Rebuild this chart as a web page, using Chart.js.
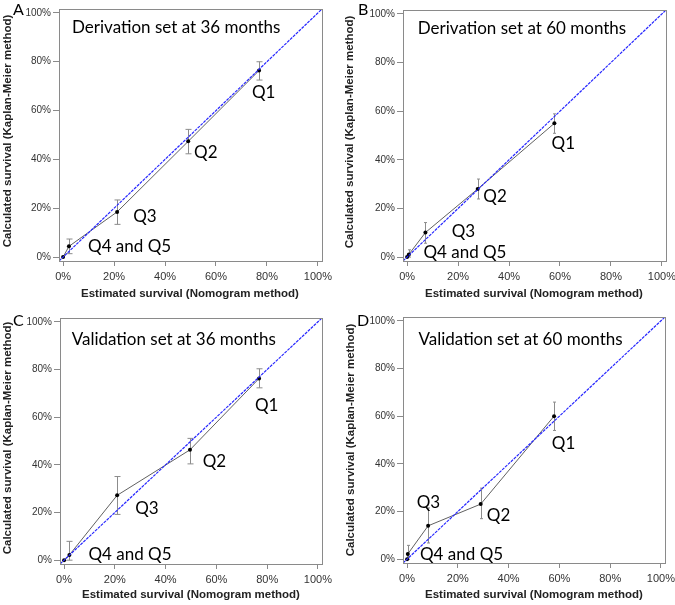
<!DOCTYPE html>
<html><head><meta charset="utf-8">
<script src="https://cdn.jsdelivr.net/npm/chart.js@4.4.1/dist/chart.umd.min.js"></script>
<style>
html,body{margin:0;padding:0;background:#fff;width:675px;height:605px;overflow:hidden}
canvas{position:absolute;left:0;top:0}
</style></head><body>
<canvas id="cA" width="675" height="605"></canvas>
<canvas id="cB" width="675" height="605"></canvas>
<canvas id="cC" width="675" height="605"></canvas>
<canvas id="cD" width="675" height="605"></canvas>
<script>
// ---- data ----
const axisTicks = [0, 0.2, 0.4, 0.6, 0.8, 1.0];
const quintileLabels = ['', 'Q4 and Q5', 'Q3', 'Q2', 'Q1'];
const panelTitles = ['Derivation set at 36 months', 'Derivation set at 60 months',
                     'Validation set at 36 months', 'Validation set at 60 months'];
const xTitle = 'Estimated survival (Nomogram method)';
const yTitle = 'Calculated survival (Kaplan-Meier method)';

// A: derivation 36 months
const aEst = [0, 0.023, 0.212, 0.491, 0.769];
const aObs = [0, 0.044, 0.185, 0.474, 0.764];
const aLo  = [null, 0.014, 0.134, 0.423, 0.725];
const aHi  = [null, 0.074, 0.234, 0.523, 0.800];
// B: derivation 60 months
const bEst = [0, 0.007, 0.072, 0.277, 0.578];
const bObs = [0, 0.011, 0.101, 0.280, 0.550];
const bLo  = [null, 0.000, 0.057, 0.239, 0.509];
const bHi  = [null, 0.030, 0.142, 0.321, 0.589];
// C: validation 36 months
const cEst = [0, 0.021, 0.209, 0.496, 0.768];
const cObs = [0, 0.022, 0.272, 0.463, 0.762];
const cLo  = [null, 0.000, 0.192, 0.404, 0.723];
const cHi  = [null, 0.079, 0.351, 0.511, 0.803];
// D: validation 60 months
const dEst = [0, 0.003, 0.083, 0.290, 0.579];
const dObs = [0, 0.022, 0.140, 0.231, 0.600];
const dLo  = [null, 0.000, 0.068, 0.170, 0.540];
const dHi  = [null, 0.058, 0.215, 0.298, 0.659];

// ---- layout / style ----
const AX_MIN = -0.016, AX_MAX = 1.016;
const YW = 50, XH = 40;
const panels = [
  {id:'cA', letter:'A', title:panelTitles[0], est:aEst, obs:aObs, lo:aLo, hi:aHi, cap:3,
   box:{l:59,r:322,t:9,b:261}, titleAt:[0.035,0.939],
   labelAt:[null,[0.098,0.043],[0.275,0.166],[0.514,0.427],[0.741,0.673]],
   letterAt:[13,2], yTitleAt:[8,131], xTitleAt:[190,294]},
  {id:'cB', letter:'B', title:panelTitles[1], est:bEst, obs:bObs, lo:bLo, hi:bHi, cap:1.5,
   box:{l:403,r:666,t:10,b:261}, titleAt:[0.042,0.94],
   labelAt:[null,[0.064,0.02],[0.175,0.104],[0.299,0.25],[0.567,0.466]],
   letterAt:[358,2], yTitleAt:[350,132], xTitleAt:[534,294]},
  {id:'cC', letter:'C', title:panelTitles[2], est:cEst, obs:cObs, lo:cLo, hi:cHi, cap:3,
   box:{l:60,r:322,t:318,b:564}, titleAt:[0.03,0.926],
   labelAt:[null,[0.096,0.023],[0.28,0.216],[0.546,0.412],[0.752,0.649]],
   letterAt:[13,313], yTitleAt:[8,438], xTitleAt:[191,595]},
  {id:'cD', letter:'D', title:panelTitles[3], est:dEst, obs:dObs, lo:dLo, hi:dHi, cap:1.5,
   box:{l:403,r:665,t:317,b:563}, titleAt:[0.045,0.92],
   labelAt:[null,[0.051,0.019],[0.038,0.238],[0.314,0.182],[0.57,0.487]],
   letterAt:[357,313], yTitleAt:[351,440], xTitleAt:[534,595]}
];

const GRAY = '#8a8a8a';
const pctFmt = v => Math.round(v * 100) + '%';

function makeDeco(p){
  return {
    id:'deco'+p.letter,
    beforeDatasetsDraw(chart){
      const xs = chart.scales.x, ys = chart.scales.y, ctx = chart.ctx;
      ctx.save();
      ctx.strokeStyle = '#8c8c8c'; ctx.lineWidth = 1;
      for (let i = 0; i < p.est.length; i++){
        if (p.lo[i] == null) continue;
        const x = Math.round(xs.getPixelForValue(p.est[i])) + 0.5;
        const y1 = ys.getPixelForValue(p.lo[i]), y2 = ys.getPixelForValue(p.hi[i]);
        ctx.beginPath();
        ctx.moveTo(x, y1); ctx.lineTo(x, y2);
        ctx.moveTo(x - p.cap, y1); ctx.lineTo(x + p.cap, y1);
        ctx.moveTo(x - p.cap, y2); ctx.lineTo(x + p.cap, y2);
        ctx.stroke();
      }
      ctx.restore();
    },
    afterDraw(chart){
      const xs = chart.scales.x, ys = chart.scales.y, ctx = chart.ctx, a = chart.chartArea;
      ctx.save();
      ctx.strokeStyle = GRAY; ctx.lineWidth = 1;
      ctx.strokeRect(Math.round(a.left)+0.5, Math.round(a.top)+0.5,
                     Math.round(a.right - a.left), Math.round(a.bottom - a.top));
      ctx.fillStyle = '#000';
      ctx.font = '17px Lato';
      ctx.textBaseline = 'middle'; ctx.textAlign = 'left';
      ctx.fillText(p.title, xs.getPixelForValue(p.titleAt[0]), ys.getPixelForValue(p.titleAt[1]));
      for (let i = 0; i < quintileLabels.length; i++){
        if (!p.labelAt[i]) continue;
        ctx.fillText(quintileLabels[i], xs.getPixelForValue(p.labelAt[i][0]), ys.getPixelForValue(p.labelAt[i][1]));
      }
      ctx.font = '16px Lato'; ctx.textBaseline = 'top';
      ctx.fillText(p.letter, p.letterAt[0], p.letterAt[1]);
      ctx.fillStyle = '#222';
      ctx.font = 'bold 11.5px "Liberation Sans", Arial, sans-serif';
      ctx.textAlign = 'center'; ctx.textBaseline = 'middle';
      ctx.fillText(xTitle, p.xTitleAt[0], p.xTitleAt[1]);
      ctx.translate(p.yTitleAt[0], p.yTitleAt[1]);
      ctx.rotate(-Math.PI/2);
      ctx.fillText(yTitle, 0, 0);
      ctx.restore();
    }
  };
}

Chart.defaults.animation = false;

panels.forEach(p => {
  const pts = p.est.map((e, i) => ({x:e, y:p.obs[i]}));
  new Chart(document.getElementById(p.id), {
    type:'line',
    data:{datasets:[
      {data:pts, borderColor:'#606060', borderWidth:1, pointRadius:2,
       pointBackgroundColor:'#000', pointBorderColor:'#000', pointBorderWidth:0, tension:0, order:2},
      {data:[{x:AX_MIN,y:AX_MIN},{x:AX_MAX,y:AX_MAX}], borderColor:'#2626ff', borderWidth:1.2,
       borderDash:[3,1], pointRadius:0, order:1}
    ]},
    options:{
      responsive:false, animation:false, events:[],
      layout:{autoPadding:false, padding:{left:p.box.l - YW, top:p.box.t, right:675 - p.box.r, bottom:605 - p.box.b - XH}},
      plugins:{legend:{display:false}, tooltip:{enabled:false}, title:{display:false}},
      scales:{
        x:{type:'linear', min:AX_MIN, max:AX_MAX,
           afterBuildTicks:s => { s.ticks = axisTicks.map(v => ({value:v})); },
           afterFit:s => { s.height = XH; s.paddingLeft = 0; s.paddingRight = 0; },
           grid:{drawOnChartArea:false, drawTicks:true, tickLength:5, color:GRAY, tickColor:GRAY},
           border:{display:true, color:GRAY},
           ticks:{callback:pctFmt, color:'#333', padding:4, maxRotation:0,
                  font:{family:'"Liberation Sans", Arial, sans-serif', size:11}}},
        y:{type:'linear', min:AX_MIN, max:AX_MAX,
           afterBuildTicks:s => { s.ticks = axisTicks.map(v => ({value:v})); },
           afterFit:s => { s.width = YW; s.paddingTop = 0; s.paddingBottom = 0; },
           grid:{drawOnChartArea:false, drawTicks:true, tickLength:6, color:GRAY, tickColor:GRAY},
           border:{display:true, color:GRAY},
           ticks:{callback:pctFmt, color:'#333', padding:2,
                  font:{family:'"Liberation Sans Narrow", "Liberation Sans", Arial, sans-serif', size:10}}}
      }
    },
    plugins:[makeDeco(p)]
  });
});
</script>
</body></html>
